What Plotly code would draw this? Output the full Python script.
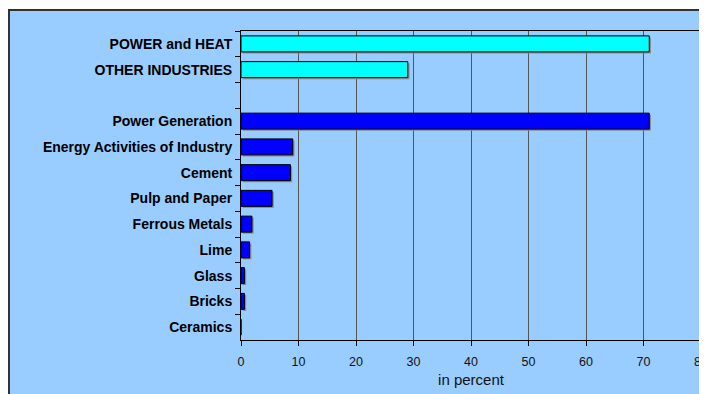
import plotly.graph_objects as go

# data (percent)
categories = ["POWER and HEAT", "OTHER INDUSTRIES", " ",
              "Power Generation", "Energy Activities of Industry", "Cement",
              "Pulp and Paper", "Ferrous Metals", "Lime", "Glass", "Bricks", "Ceramics"]
summary_cats = ["POWER and HEAT", "OTHER INDUSTRIES"]
summary_vals = [71, 29]
detail_cats = ["Power Generation", "Energy Activities of Industry", "Cement",
               "Pulp and Paper", "Ferrous Metals", "Lime", "Glass", "Bricks", "Ceramics"]
detail_vals = [71, 9.0, 8.6, 5.4, 1.9, 1.5, 0.6, 0.6, 0]
x_ticks = [0, 10, 20, 30, 40, 50, 60, 70, 80]

# the page body adds an 8px offset, so positions are screen coords minus 8
W, H = 707, 394
OFF = 8
ml, mt = 241 - OFF, 31 - OFF
mr = W - (701 - OFF)
mb = H - (340 - OFF)
pw, ph = W - ml - mr, H - mt - mb
BAR_W = 0.62


def px_x(X):
    return (X - OFF - ml) / pw


def px_y(Y):
    return (H - mb - (Y - OFF)) / ph


fig = go.Figure()
# soft drop shadows behind the bars
for cats, vals in [(summary_cats, summary_vals), (detail_cats, detail_vals)]:
    fig.add_trace(go.Bar(y=cats, x=vals, orientation="h", base=0.3,
                         width=BAR_W, offset=-BAR_W / 2 + 0.06,
                         marker=dict(color="#8A8A8A", line=dict(width=0)),
                         showlegend=False, hoverinfo="skip"))
fig.add_trace(go.Bar(y=summary_cats, x=summary_vals, orientation="h", width=BAR_W,
                     marker=dict(color="#00FFFF", line=dict(color="#000000", width=1)),
                     showlegend=False))
fig.add_trace(go.Bar(y=detail_cats, x=detail_vals, orientation="h", width=BAR_W,
                     marker=dict(color="#0000FF", line=dict(color="#000000", width=1)),
                     showlegend=False))

# light blue chart area with dark frame
fig.add_shape(type="rect", xref="paper", yref="paper",
              x0=px_x(9), x1=px_x(760), y0=px_y(440), y1=px_y(10),
              fillcolor="#99CCFF", line=dict(color="#333333", width=2), layer="below")

fig.update_layout(
    width=W, height=H,
    margin=dict(l=ml, r=mr, t=mt, b=mb, autoexpand=False),
    paper_bgcolor="#FFFFFF", plot_bgcolor="#FFFFFF",
    barmode="overlay",
    font=dict(family="Liberation Sans, Arial, sans-serif", color="#000000"),
    xaxis=dict(range=[0, 80], tickvals=x_ticks, ticks="outside", ticklen=5,
               tickcolor="#000000", tickfont=dict(size=12.5, color="#111111"),
               ticklabelstandoff=5,
               showgrid=True, gridcolor="#555555", gridwidth=1,
               showline=True, linecolor="#000000", linewidth=1, mirror=True,
               zeroline=False,
               title=dict(text="in percent", font=dict(size=15, color="#111111"), standoff=6)),
    yaxis=dict(categoryorder="array", categoryarray=categories, autorange="reversed",
               tickson="boundaries", ticks="outside", ticklen=5, tickcolor="#000000",
               tickfont=dict(size=14, family="Liberation Sans, Arial, sans-serif",
                             weight="bold"),
               ticklabelstandoff=5,
               showline=True, linecolor="#000000", linewidth=1, mirror=True,
               showgrid=False),
)

fig.write_html("out.html")
